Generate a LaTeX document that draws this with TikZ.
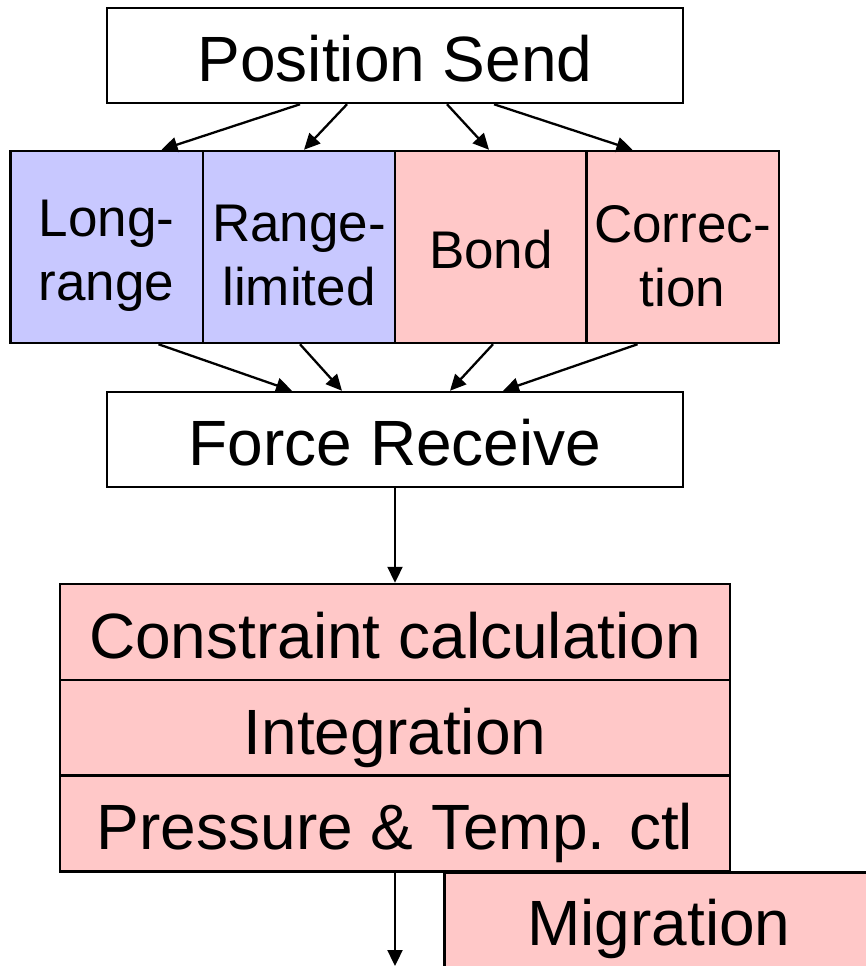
\documentclass[tikz,border=0pt]{standalone}
\usepackage{fontspec}
\setmainfont{Liberation Sans}
\usetikzlibrary{arrows.meta}
\definecolor{lrblue}{RGB}{200,200,255}
\definecolor{stpink}{RGB}{255,200,200}
\begin{document}
\begin{tikzpicture}[x=1pt,y=-1pt,
  box/.style={draw,line width=2.5pt,inner sep=0pt,anchor=center},
  bigtext/.style={font=\fontsize{64}{70}\selectfont,text height=52pt,text depth=0pt},
  smalltext/.style={font=\fontsize{53}{64}\selectfont,align=center,inner sep=0pt},
  wide/.style={box,bigtext,minimum width=576pt,minimum height=95pt},
  stage/.style={box,bigtext,fill=stpink,minimum width=670pt,minimum height=96pt},
  force/.style={box,minimum width=192.5pt,minimum height=192pt},
  flow/.style={line width=2.3pt,-{Triangle[length=16pt,width=15pt]}}]
\clip (0,0) rectangle (866,966);
\fill[white] (0,0) rectangle (866,966);

% send and receive stages
\node[wide] (ps) at (395,55.5) {Position Send};
\node[wide] (fr) at (395,439.5) {Force Receive};

% force computation units
\node[force,fill=lrblue] (lr) at (106.5,247) {};
\node[force,fill=lrblue] (rl) at (299,247) {};
\node[force,fill=stpink] (bd) at (491,247) {};
\node[force,fill=stpink] (cr) at (682.5,247) {};
\node[smalltext] (lrt) at ([yshift=-9pt]lr.center) {Long-\\range};
\node[smalltext] (rlt) at ([yshift=-9pt]rl.center) {Range-\\limited};
\node[smalltext] (bdt) at ([yshift=-3pt]bd.center) {Bond};
\node[smalltext] (crt) at ([yshift=-9pt]cr.center) {Correc-\\tion};

% fan-out from position send
\draw[flow] ([xshift=-95pt]ps.south) -- ([xshift=55pt]lr.north);
\draw[flow] ([xshift=-48pt]ps.south) -- ([xshift=5pt]rl.north);
\draw[flow] ([xshift=52pt]ps.south) -- ([xshift=-2pt]bd.north);
\draw[flow] ([xshift=99pt]ps.south) -- ([xshift=-50pt]cr.north);

% fan-in to force receive
\draw[flow] ([xshift=52pt]lr.south) -- ([xshift=-103pt]fr.north);
\draw[flow] ([xshift=1pt]rl.south) -- ([xshift=-53pt]fr.north);
\draw[flow] ([xshift=2pt]bd.south) -- ([xshift=55pt]fr.north);
\draw[flow] ([xshift=-45pt]cr.south) -- ([xshift=108pt]fr.north);

% update stages
\node[stage] (cc) at (395,632) {Constraint calculation};
\node[stage] (ig) at (395,728) {Integration};
\node[stage] (pt) at (395,823.5) {Pressure \& Temp. ctl};
\node[box,fill=stpink,minimum width=440pt,minimum height=110pt,anchor=north west] (mg) at (443,871) {};
\node[bigtext,inner sep=0pt,anchor=center] (mgl) at (659,919) {Migration};

\draw[flow] (fr.south) -- (cc.north);
\coordinate (out) at (395,966);
\draw[flow] (pt.south) -- (out);
\end{tikzpicture}
\end{document}
